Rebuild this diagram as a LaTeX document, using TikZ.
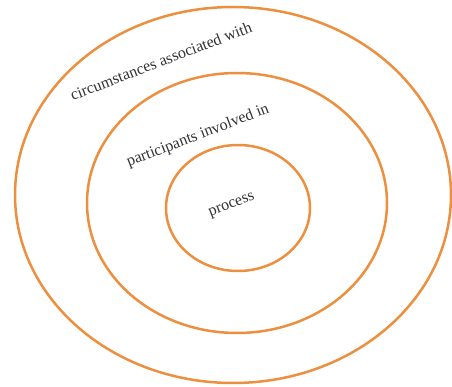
\documentclass[tikz,border=0pt]{standalone}
\usepackage{fontspec}
\setmainfont{Liberation Serif}
\definecolor{ringorange}{RGB}{236,143,62}
\begin{document}
\begin{tikzpicture}[x=1pt,y=-1pt,
  ring/.style={draw=ringorange,line width=2.5pt},
  lbl/.style={font=\fontsize{16}{18}\selectfont,text=black!80,rotate=21,inner sep=0pt}]
\useasboundingbox (0,0) rectangle (452,387);
\draw[ring] (233,195) ellipse [x radius=218,y radius=188];
\draw[ring] (237,203) ellipse [x radius=150,y radius=130];
\draw[ring] (238,208) ellipse [x radius=72,y radius=63];
\node[lbl] (outer) at (161,61) {circumstances associated with};
\node[lbl] (middle) at (198,136) {participants involved in};
\node[lbl] (inner) at (232,206) {process};
\end{tikzpicture}
\end{document}
